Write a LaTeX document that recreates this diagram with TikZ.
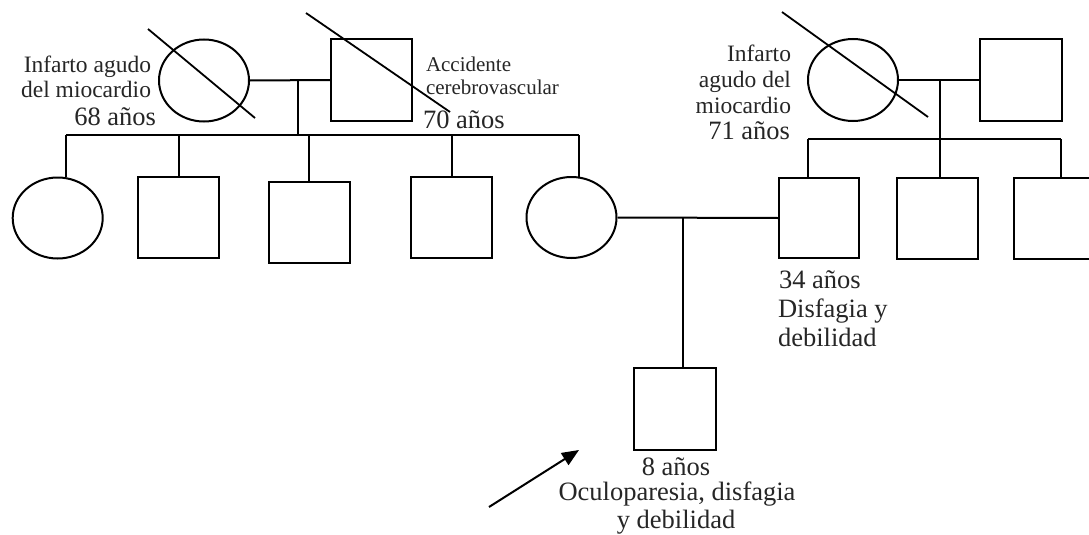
\documentclass[tikz,border=0pt]{standalone}
\usepackage{fontspec}
\setmainfont{Liberation Serif}
\usetikzlibrary{shapes.geometric,arrows.meta}
\begin{document}
\begin{tikzpicture}[x=1pt,y=-1pt,line width=2pt,
  fem/.style={draw,ellipse,inner sep=0pt,minimum width=90pt,minimum height=82pt},
  mal/.style={draw,rectangle,inner sep=0pt,minimum width=81pt,minimum height=81pt},
  txtA/.style={inner sep=0pt,text=black!85,font=\fontsize{23.5pt}{28pt}\selectfont},
  txtB/.style={inner sep=0pt,text=black!85,font=\fontsize{21pt}{25pt}\selectfont},
  txtC/.style={inner sep=0pt,text=black!85,font=\fontsize{26.5pt}{30pt}\selectfont},
  strike/.style={line width=1.8pt},
  arr/.style={line width=2pt,-{Triangle[length=17pt,width=14pt]}}]
\fill[white] (0,0) rectangle (1089,535);
\useasboundingbox (0,0) rectangle (1089,535);
% grandparents left
\node[fem] (gm1) at (204,80.5) {};
\node[mal] (gf1) at (371.5,80) {};
\coordinate (sk1a) at (148,29); \coordinate (sk1b) at (255,118);
\coordinate (sk2a) at (306,13); \coordinate (sk2b) at (450,112);
\draw[strike] (sk1a) -- (sk1b);
\draw[strike] (sk2a) -- (sk2b);
\coordinate (m1) at (298,80);
\coordinate (s1) at (298,136);
\coordinate (s1L) at (66,135);
\coordinate (s1R) at (579,135);
\draw (gm1.east) -- (gf1.west);
\draw (m1) -- (s1);
\draw (s1L) -- (s1R);
% children left
\node[fem,minimum width=90pt,minimum height=81pt] (c1) at (57.7,218) {};
\node[mal] (c2) at (178.5,217.5) {};
\node[mal] (c3) at (309,222.5) {};
\node[mal] (c4) at (451.5,217.5) {};
\node[fem,minimum width=90pt,minimum height=81pt] (c5) at (571.5,217.5) {};
\draw (s1L) -- (s1L |- c1.north);
\draw (c2.north |- s1L) -- (c2.north);
\draw (c3.north |- s1L) -- (c3.north);
\draw (c4.north |- s1L) -- (c4.north);
\draw (s1R) -- ([yshift=-1pt]s1R |- c5.north);
% grandparents right
\node[fem] (gm2) at (853,80) {};
\node[mal,minimum width=82pt,minimum height=82pt] (gf2) at (1021,80) {};
\coordinate (sk3a) at (782,12); \coordinate (sk3b) at (928,117);
\draw[strike] (sk3a) -- (sk3b);
\draw (gm2.east) -- (gf2.west);
\coordinate (m2) at (940,80);
\coordinate (s2L) at (808,139);
\coordinate (s2R) at (1061,139);
\draw (s2L) -- (s2R);
% children right
\node[mal,minimum width=80pt,minimum height=80pt] (f) at (819,218) {};
\node[mal] (u2) at (937.5,218) {};
\node[mal] (u3) at (1054.5,218) {};
\draw (m2) -- (m2 |- u2.north);
\draw (s2L) -- (s2L |- f.north);
\draw (s2R) -- (s2R |- u3.north);
% parents and proband
\draw (c5.east) -- (f.west);
\coordinate (m3) at (683,217.5);
\node[mal,minimum width=82pt,minimum height=82pt] (p) at (675,409) {};
\draw (m3) -- (m3 |- p.north);
\coordinate (a0) at (489,507);
\coordinate (a1) at (579,450);
\draw[arr] (a0) -- (a1);
% texts
\node[txtA,anchor=base east] (t1) at (152,72) {Infarto agudo};
\node[txtA,anchor=base east] (t2) at (152,97) {del miocardio};
\node[txtC,anchor=base east] (t3) at (157,125) {68 años};
\node[txtB,anchor=base west] (t4) at (425,71) {Accidente};
\node[txtB,anchor=base west] (t5) at (425,94) {cerebrovascular};
\node[txtC,anchor=base west] (t6) at (422,128) {70 años};
\node[txtA,anchor=base east] (t7) at (792,62) {Infarto};
\node[txtA,anchor=base east] (t8) at (792,87) {agudo del};
\node[txtA,anchor=base east] (t9) at (792,113) {miocardio};
\node[txtC,anchor=base east] (t10) at (791,139) {71 años};
\node[txtC,anchor=base west] (t11) at (778,288) {34 años};
\node[txtC,anchor=base west] (t12) at (777,317) {Disfagia y};
\node[txtC,anchor=base west] (t13) at (777,346) {debilidad};
\node[txtC,anchor=base] (t14) at (676,475) {8 años};
\node[txtC,anchor=base] (t15) at (677,500) {Oculoparesia, disfagia};
\node[txtC,anchor=base] (t16) at (676,528) {y debilidad};
\end{tikzpicture}
\end{document}
